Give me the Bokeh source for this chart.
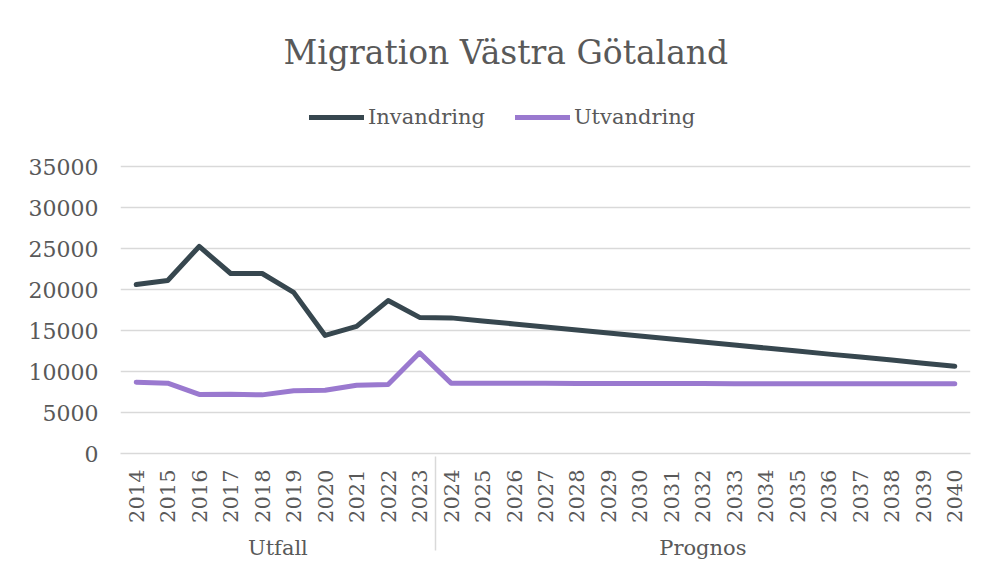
import math
from bokeh.plotting import figure
from bokeh.models import (ColumnDataSource, FactorRange, Range1d, Legend, LegendItem,
                          FixedTicker, NumeralTickFormatter)
from bokeh.embed import file_html
from bokeh.resources import INLINE

# ---- data ----
outcome_years = [str(y) for y in range(2014, 2024)]
forecast_years = [str(y) for y in range(2024, 2041)]
group_names = ["Utfall", "Prognos"]

invandring = [20600, 21100, 25250, 21950, 21950, 19650, 14400, 15500, 18650, 16600,
              16540, 16170, 15800, 15440, 15070, 14700, 14330, 13960, 13600, 13230,
              12860, 12490, 12120, 11760, 11390, 11020, 10650]
utvandring = [8700, 8580, 7200, 7230, 7150, 7650, 7720, 8330, 8410, 12280,
              8580, 8570, 8560, 8560, 8550, 8550, 8540, 8530, 8530, 8520,
              8520, 8510, 8510, 8500, 8500, 8500, 8500]
y_ticks = [0, 5000, 10000, 15000, 20000, 25000, 30000, 35000]

factors = [(group_names[0], y) for y in outcome_years] + [(group_names[1], y) for y in forecast_years]

src = ColumnDataSource(dict(x=factors, inv=invandring, utv=utvandring))

FONT = "DejaVu Serif"
TXT = "#595959"
GRID = "#d9d9d9"

p = figure(frame_width=850, frame_height=363, output_backend="svg", toolbar_location=None,
           x_range=FactorRange(*factors, group_padding=0, subgroup_padding=0,
                               factor_padding=0, range_padding=0),
           y_range=Range1d(0, 44270),
           title="Migration Västra Götaland",
           min_border_left=120, min_border_right=16, min_border_top=90,
           min_border_bottom=122)
p.outline_line_color = None

p.title.align = "left"
p.title.offset = 163
p.title.text_font = FONT
p.title.text_font_size = "33px"
p.title.text_font_style = "normal"
p.title.text_color = TXT
p.title.standoff = 38

r1 = p.line("x", "inv", source=src, line_color="#37474F", line_width=5, line_cap="round", line_join="round")
r2 = p.line("x", "utv", source=src, line_color="#9A79CF", line_width=5, line_cap="round", line_join="round")

legend = Legend(items=[LegendItem(label="Invandring", renderers=[r1]),
                       LegendItem(label="Utvandring", renderers=[r2])],
                orientation="horizontal", location=(189, 324))
legend.label_text_font = FONT
legend.label_text_font_size = "21px"
legend.label_text_color = TXT
legend.label_height = 20
legend.glyph_width = 55
legend.glyph_height = 20
legend.label_standoff = 4
legend.spacing = 30
legend.border_line_color = None
legend.background_fill_alpha = 0
legend.padding = 4
legend.margin = 0
p.add_layout(legend, "center")

# y axis
p.yaxis.ticker = FixedTicker(ticks=y_ticks)
p.yaxis.formatter = NumeralTickFormatter(format="0")
p.yaxis.axis_line_color = None
p.yaxis.major_tick_line_color = None
p.yaxis.minor_tick_line_color = None
p.yaxis.major_label_standoff = 16
p.yaxis.major_label_text_font = FONT
p.yaxis.major_label_text_font_size = "22px"
p.yaxis.major_label_text_color = TXT

p.ygrid.grid_line_color = GRID
p.ygrid.grid_line_width = 1.5
p.xgrid.grid_line_color = None

# x axis
xa = p.xaxis[0]
xa.axis_line_color = GRID
xa.axis_line_width = 1.5
xa.major_tick_line_color = None
xa.minor_tick_line_color = None
xa.major_label_orientation = math.pi / 2
xa.major_label_text_font = FONT
xa.major_label_text_font_size = "21px"
xa.major_label_text_color = TXT
xa.major_label_standoff = 10
xa.group_text_font = FONT
xa.group_text_font_size = "21px"
xa.group_text_font_style = "normal"
xa.group_text_color = TXT
xa.separator_line_color = GRID
xa.separator_line_width = 1.5

open("out.html", "w").write(file_html(p, INLINE))
